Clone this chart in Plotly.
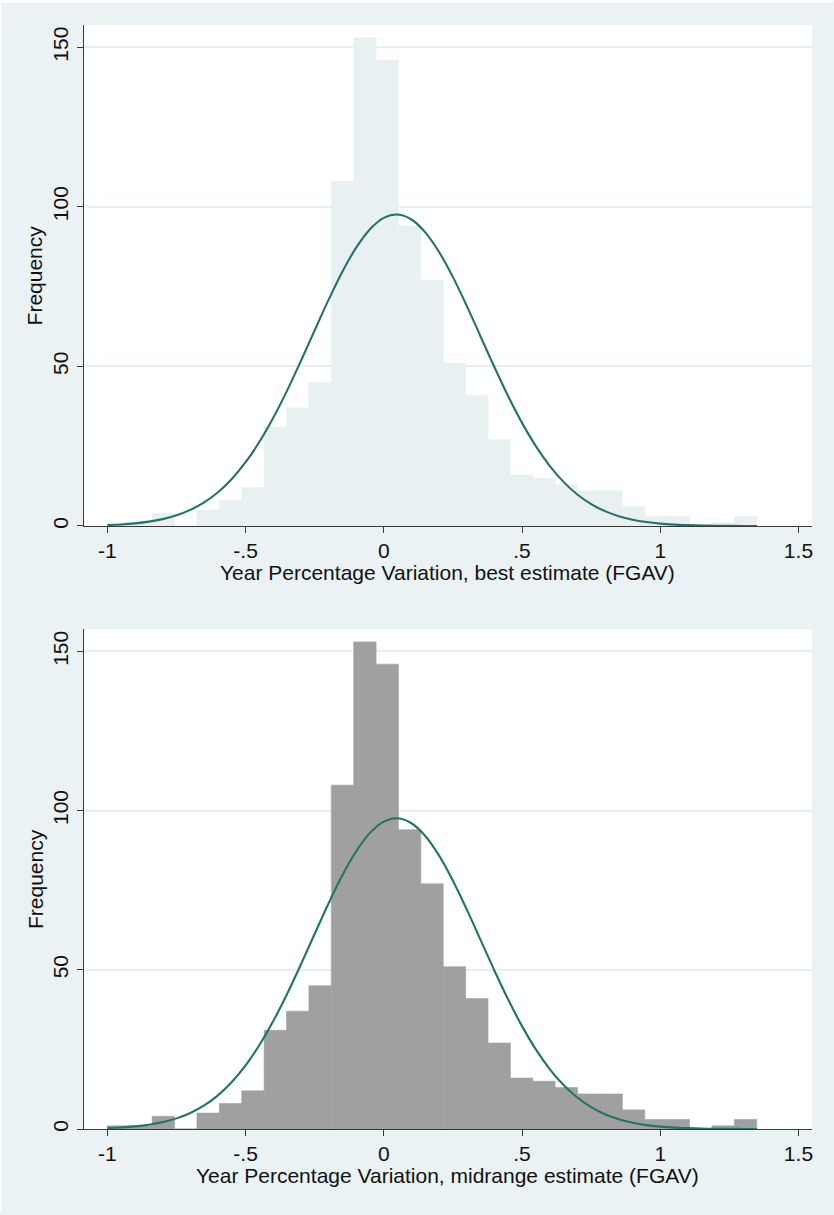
import plotly.graph_objects as go

# ---- data ----
bin_lefts = [-1.000, -0.919, -0.838, -0.757, -0.676, -0.595, -0.514, -0.433, -0.352, -0.271,
             -0.190, -0.109, -0.028, 0.053, 0.134, 0.215, 0.296, 0.377, 0.458, 0.539,
             0.620, 0.701, 0.782, 0.863, 0.944, 1.025, 1.106, 1.187, 1.268]
bin_width = 0.081
frequency = [1, 1, 4, 0, 5, 8, 12, 31, 37, 45,
             108, 153, 146, 94, 77, 51, 41, 27, 16, 15,
             13, 11, 11, 6, 3, 3, 0, 1, 3]

# fitted normal density curve (scaled to frequency), read along the x axis
curve_x = [-1.00, -0.95, -0.90, -0.85, -0.80, -0.75, -0.70, -0.65, -0.60, -0.55,
           -0.50, -0.45, -0.40, -0.35, -0.30, -0.25, -0.20, -0.15, -0.10, -0.05,
           0.00, 0.05, 0.10, 0.15, 0.20, 0.25, 0.30, 0.35, 0.40, 0.45,
           0.50, 0.55, 0.60, 0.65, 0.70, 0.75, 0.80, 0.85, 0.90, 0.95,
           1.00, 1.05, 1.10, 1.15, 1.20, 1.25, 1.30, 1.35]
curve_y = [0.29, 0.49, 0.83, 1.36, 2.16, 3.34, 5.04, 7.40, 10.58, 14.74,
           19.98, 26.38, 33.90, 42.42, 51.69, 61.33, 70.84, 79.67, 87.23, 93.01,
           96.55, 97.59, 96.04, 92.02, 85.85, 77.98, 68.97, 59.39, 49.80, 40.65,
           32.31, 25.01, 18.84, 13.82, 9.88, 6.87, 4.65, 3.07, 1.97, 1.23,
           0.75, 0.44, 0.26, 0.14, 0.08, 0.04, 0.02, 0.01]

x_tick_vals = [-1, -0.5, 0, 0.5, 1, 1.5]
x_tick_text = ["-1", "-.5", "0", ".5", "1", "1.5"]
y_tick_vals = [0, 50, 100, 150]
y_tick_text = ["0", "50", "100", "150"]

y_title = "Frequency"
x_titles = ["Year Percentage Variation, best estimate (FGAV)",
            "Year Percentage Variation, midrange estimate (FGAV)"]

# ---- styling ----
W, H = 834, 1215
BG = "#EAF2F3"
GRID = "#E6EFF1"
AXIS = "#3a3a3a"
CURVE = "#24736A"
FONT = "Liberation Sans, Arial, sans-serif"
bar_fills = ["#E8F0F2", "#A0A0A0"]

x_dom = [84 / W, 812.7 / W]
y_doms = [[1 - 527.3 / H, 1 - 25 / H], [1 - 1131.8 / H, 1 - 630.7 / H]]

fig = go.Figure()
layout_axes = {}
annotations = []
for i in range(2):
    xa = "x" if i == 0 else "x2"
    ya = "y" if i == 0 else "y2"
    fig.add_trace(go.Bar(
        x=bin_lefts, y=frequency, width=bin_width, offset=0,
        marker=dict(color=bar_fills[i], line=dict(color=bar_fills[i], width=0.6)),
        xaxis=xa, yaxis=ya, hoverinfo="skip",
    ))
    fig.add_trace(go.Scatter(
        x=curve_x, y=curve_y, mode="lines",
        line=dict(color=CURVE, width=2.1, shape="spline"),
        xaxis=xa, yaxis=ya, hoverinfo="skip",
    ))
    sx = "" if i == 0 else "2"
    layout_axes["xaxis" + sx] = dict(
        domain=x_dom, range=[-1.085, 1.548], anchor=ya,
        showline=True, linecolor=AXIS, linewidth=1.2,
        ticks="outside", ticklen=6, tickwidth=1.2, tickcolor=AXIS,
        tickvals=x_tick_vals, ticktext=x_tick_text,
        tickfont=dict(family=FONT, size=21, color="#111"),
        showgrid=False, zeroline=False, fixedrange=True,
    )
    layout_axes["yaxis" + sx] = dict(
        domain=y_doms[i], range=[0, 157], anchor=xa,
        showline=True, linecolor=AXIS, linewidth=1.2,
        ticks="outside", ticklen=6, tickwidth=1.2, tickcolor=AXIS,
        tickvals=y_tick_vals, ticktext=y_tick_text, tickangle=-90,
        tickfont=dict(family=FONT, size=21, color="#111"),
        showgrid=True, gridcolor=GRID, gridwidth=1.5,
        zeroline=False, fixedrange=True,
    )
    y_center = (y_doms[i][0] + y_doms[i][1]) / 2
    annotations.append(dict(
        text=y_title, xref="paper", yref="paper", x=35 / W, y=y_center,
        xanchor="center", yanchor="middle", textangle=-90, showarrow=False,
        font=dict(family=FONT, size=21, color="#111"),
    ))
    annotations.append(dict(
        text=x_titles[i], xref="paper", yref="paper",
        x=(x_dom[0] + x_dom[1]) / 2, y=y_doms[i][0] - 47 / H,
        xanchor="center", yanchor="middle", showarrow=False,
        font=dict(family=FONT, size=21, color="#111"),
    ))

fig.update_layout(
    width=W, height=H,
    margin=dict(l=0, r=0, t=0, b=0),
    paper_bgcolor=BG, plot_bgcolor="white",
    showlegend=False, barmode="overlay",
    annotations=annotations,
    shapes=[
        dict(type="rect", xref="paper", yref="paper", x0=0, x1=1,
             y0=1 - 3 / H, y1=1, fillcolor="white", line=dict(width=0), layer="above"),
        dict(type="rect", xref="paper", yref="paper", x0=0, x1=1.2 / W,
             y0=0, y1=1, fillcolor="white", line=dict(width=0), layer="above"),
    ],
    **layout_axes,
)

fig.write_html("out.html")
